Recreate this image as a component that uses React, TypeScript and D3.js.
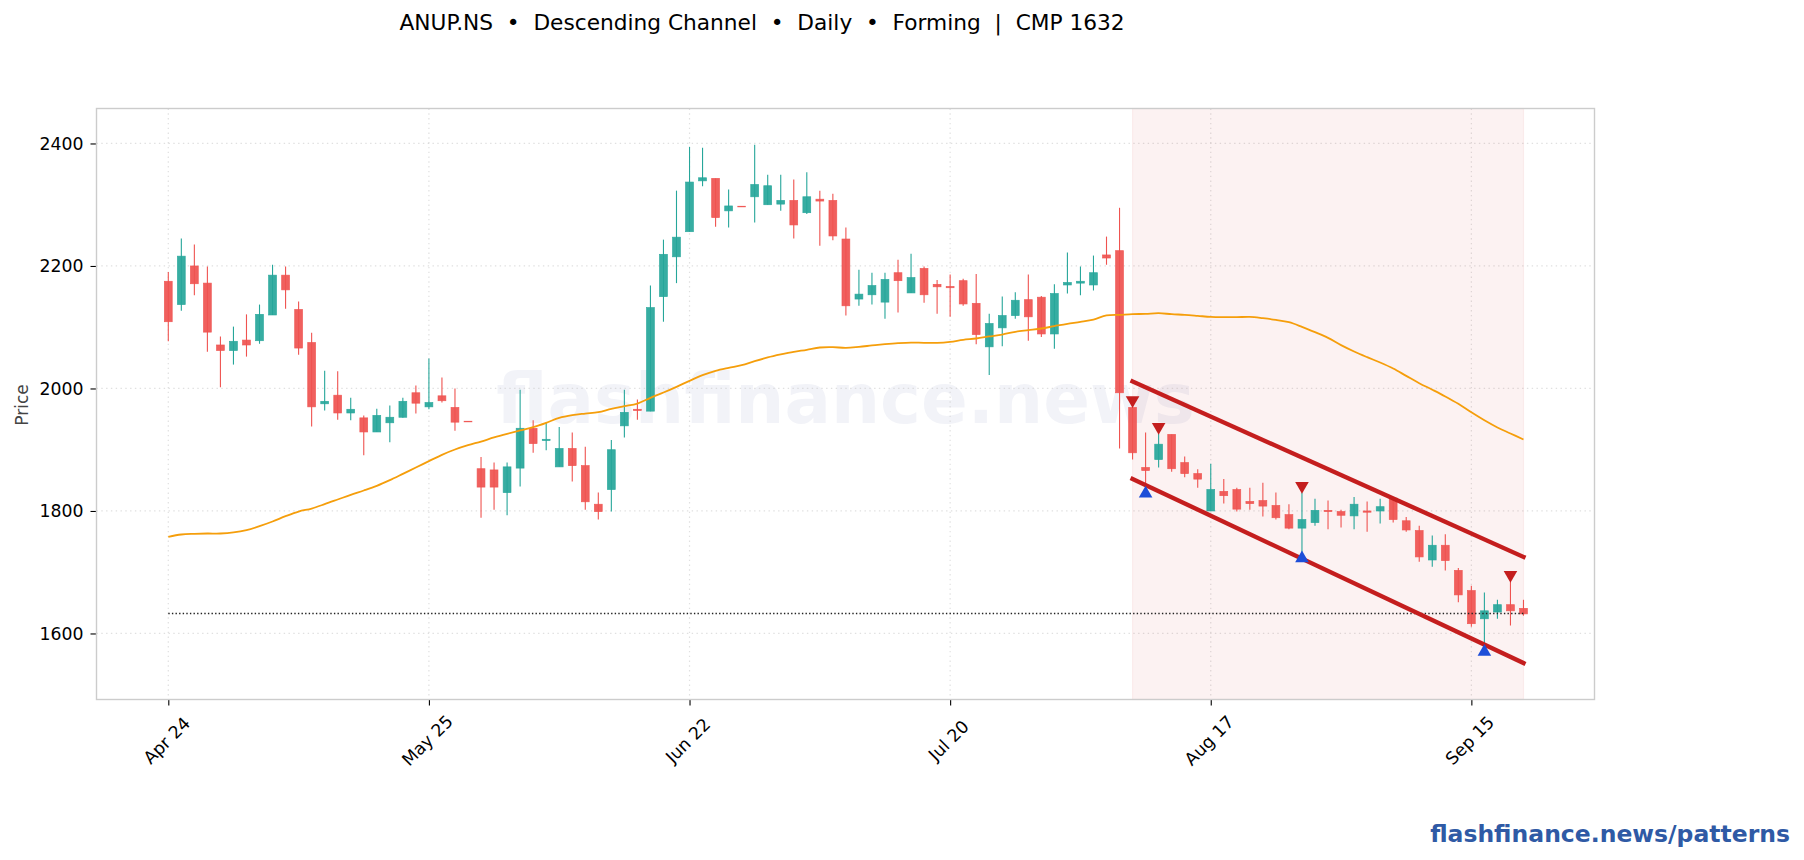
import * as d3 from "d3"
import { useEffect, useRef } from "react"

const titleText = "ANUP.NS  •  Descending Channel  •  Daily  •  Forming  |  CMP 1632"
const watermarkText = "flashfinance.news"
const footerText = "flashfinance.news/patterns"

const opens = [2175,2137,2200,2172,2071,2062,2079,2078,2120,2185,2129,2075,1975,1989,1960,1952,1929,1944,1953,1993,1970,1988,1969,1946.5,1869,1867,1830,1870,1935,1915,1872,1902,1874,1811,1835,1939,1966,1963,2150,2215,2256,2339,2343,2290,2297.5,2313,2300,2301,2307,2287,2309,2307,2244,2146,2153,2141,2189,2156,2196,2170,2166.5,2176,2139,2068,2099,2119,2145,2149,2089,2169,2172,2169,2218,2225,1969,1871,1884,1925,1879,1861,1800,1832,1835,1815.5,1817,1809,1794,1772,1781,1801,1799,1792,1800,1800,1821,1784,1768,1720,1744,1703,1670,1624,1635,1647,1641]
const highs = [2190,2245,2235,2199,2085,2101,2121,2137,2202,2199,2142,2091,2029,2028,1985,1956,1967,1972,1985,2005,2049,2018,2000,1946.5,1888,1879,1879,1998,1948,1945,1937,1928,1905,1830,1916,1998,1982,2168,2243,2323,2394.5,2393,2343,2325,2297.5,2398,2349,2349,2341,2353,2323,2318,2263,2194,2189,2189,2210,2220,2199,2177,2186,2179,2187,2122,2150,2157,2186,2151,2170,2222,2199,2217,2248,2295,1975,1928,1926,1925,1889,1868,1877,1852,1838,1838,1846,1830,1811,1830,1820,1817,1802,1823,1815.5,1820,1821,1790,1776,1760,1762,1707,1678,1667,1655,1684,1655]
const lows = [2077,2127,2152,2060,2002,2039,2052,2073,2120,2130,2055,1938,1964,1949,1948,1891,1929,1912,1952,1959,1966,1977,1931,1945.5,1789,1802,1793,1840,1895,1899,1872,1848,1802,1786,1799,1920,1949,1963,2109,2172,2256,2330,2264,2263,2296.5,2271,2300,2290,2245,2285,2233,2242,2119,2135,2137,2114,2124,2156,2140,2122,2117,2135,2072,2022,2069,2114,2078,2084,2065,2155,2152,2160,2202,1902,1884,1840,1871,1864,1855,1838,1800,1812,1799,1802,1791,1786,1770,1733,1776,1770,1773,1770,1766,1779.5,1781,1766,1717,1709,1703,1651,1611,1573,1624,1613,1629]
const closes = [2109,2216,2171,2092,2062,2077,2071,2121,2185,2161,2066,1970,1979,1960,1966,1929,1956,1953,1979,1976,1977,1980,1945,1945.5,1839,1839,1872,1935,1910,1917,1902,1874,1815,1799,1900,1961,1964,2132,2219,2247,2337,2344,2279,2298,2296.5,2333,2331,2307,2267,2313,2306,2249,2135,2154,2168,2178,2176,2181,2153,2166,2164.5,2138,2088,2106,2119,2144,2117,2089,2155,2173,2175,2189,2213,1993,1895,1866,1909,1869,1861,1852,1835,1825,1803,1812,1808,1789,1772,1786,1801,1799,1793,1811,1798,1807,1786,1769,1725,1744,1719,1663,1616,1637,1647,1637,1632]
const maValues = [1757.8,1761.6,1762.7,1763.2,1763.2,1764.9,1768.7,1775.2,1782.8,1791.5,1799.1,1804,1811.1,1818.7,1826.4,1833.4,1841,1850.3,1860.6,1871,1881.3,1891.7,1900.4,1907.4,1913.4,1920,1925.9,1931.4,1936.8,1943.9,1952,1956.4,1959,1961.3,1966.7,1971,1975.4,1984.7,1993.4,2002.7,2012.5,2021.7,2028.8,2033.7,2038,2044.6,2050.6,2055.5,2059.8,2063.1,2066.9,2067.4,2066.4,2068,2070.2,2072.3,2074,2075,2074.5,2074.5,2076.2,2079.4,2081.6,2084.9,2088.1,2092.5,2095.2,2097.9,2101.8,2105.6,2108.8,2112.6,2119.2,2120.2,2121.3,2121.8,2122.9,2121.3,2120.2,2118.6,2116.9,2116.4,2116.4,2116.9,2114.8,2112,2108.2,2100.6,2091.9,2082.6,2070.7,2060.3,2051.1,2042.4,2032.6,2020.6,2008.6,1998,1987,1975,1961,1948,1936.3,1926.5,1916.7]

const xTickIndex = [0, 20, 40, 60, 80, 100]
const xTickLabels = ["Apr 24", "May 25", "Jun 22", "Jul 20", "Aug 17", "Sep 15"]
const yTicks = [1600, 1800, 2000, 2200, 2400]

const cmp = 1632.7
const patternStart = 74
const patternEnd = 104
const upperChannel = [2011.4, 1725]
const lowerChannel = [1852.4, 1551.6]
const swingHighs = [[74, 1978.5], [76, 1934.7], [87, 1838.4], [103, 1693]]
const swingLows = [[75, 1831], [87, 1725], [101, 1572.5]]

const UP = "#26a69a"
const DOWN = "#ef5350"
const CHANNEL = "#c41e1e"

const App = () => {
    const svgRef = useRef(null)

    useEffect(() => {
        const svg = d3.select(svgRef.current)
        svg.selectAll("*").remove()

        const left = 96.5, right = 1594.5, top = 108.5, bottom = 699.5
        const x = d3.scaleLinear().domain([-5.51, 109.45]).range([left, right])
        const y = d3.scaleLinear().domain([1492.2, 2457.1]).range([bottom, top])
        const font = "'DejaVu Sans'"
        const band = x(0.3) - x(0)

        svg.append("text")
            .attr("x", 399.5).attr("y", 30)
            .attr("font-family", font).attr("font-size", 21.7)
            .attr("fill", "#000")
            .style("white-space", "pre")
            .text(titleText)

        // watermark goes under everything
        svg.append("text")
            .attr("x", (left + right) / 2).attr("y", (top + bottom) / 2 - 5)
            .attr("text-anchor", "middle").attr("dominant-baseline", "central")
            .attr("font-family", font).attr("font-weight", "bold").attr("font-size", 69)
            .attr("fill", "#1e3a8a").attr("fill-opacity", 0.06)
            .text(watermarkText)

        const grid = svg.append("g")
        xTickIndex.forEach(i => {
            grid.append("line")
                .attr("x1", x(i)).attr("x2", x(i)).attr("y1", top).attr("y2", bottom)
                .attr("stroke", "#ccc").attr("stroke-opacity", 0.6)
                .attr("stroke-width", 1.2).attr("stroke-dasharray", "1.4 3.4")
        })
        yTicks.forEach(v => {
            grid.append("line")
                .attr("x1", left).attr("x2", right).attr("y1", y(v)).attr("y2", y(v))
                .attr("stroke", "#ccc").attr("stroke-opacity", 0.6)
                .attr("stroke-width", 1.2).attr("stroke-dasharray", "1.4 3.4")
        })

        svg.append("rect")
            .attr("x", x(patternStart)).attr("y", top)
            .attr("width", x(patternEnd) - x(patternStart)).attr("height", bottom - top)
            .attr("fill", CHANNEL).attr("fill-opacity", 0.06)
            .attr("stroke", CHANNEL).attr("stroke-opacity", 0.06).attr("stroke-width", 1.2)

        const candles = svg.append("g")
        opens.forEach((o, i) => {
            const c = closes[i]
            const colour = c >= o ? UP : DOWN
            candles.append("line")
                .attr("x1", x(i)).attr("x2", x(i))
                .attr("y1", y(highs[i])).attr("y2", y(lows[i]))
                .attr("stroke", colour).attr("stroke-width", 1.1)
            candles.append("rect")
                .attr("x", x(i) - band)
                .attr("y", y(Math.max(o, c)))
                .attr("width", band * 2)
                .attr("height", Math.max(y(Math.min(o, c)) - y(Math.max(o, c)), 0.6))
                .attr("fill", colour).attr("fill-opacity", 0.92)
                .attr("stroke", colour).attr("stroke-opacity", 0.9).attr("stroke-width", 0.7)
        })

        svg.append("line")
            .attr("x1", x(0)).attr("x2", x(patternEnd)).attr("y1", y(cmp)).attr("y2", y(cmp))
            .attr("stroke", "#222").attr("stroke-width", 1.4).attr("stroke-dasharray", "1.4 2.2")

        const maLine = d3.line<number>().x((_, i) => x(i)).y(d => y(d)).curve(d3.curveCatmullRom)
        svg.append("path")
            .attr("d", maLine(maValues))
            .attr("fill", "none").attr("stroke", "#f59e0b").attr("stroke-width", 1.8)

        ;[upperChannel, lowerChannel].forEach(ch => {
            svg.append("line")
                .attr("x1", x(patternStart)).attr("y1", y(ch[0]))
                .attr("x2", x(patternEnd)).attr("y2", y(ch[1]))
                .attr("stroke", CHANNEL).attr("stroke-width", 4.4).attr("stroke-linecap", "square")
        })

        const tri = d3.symbol().type(d3.symbolTriangle).size(80)
        swingHighs.forEach(([i, v]) => {
            svg.append("path").attr("d", tri())
                .attr("transform", `translate(${x(i)},${y(v) - 1.5}) rotate(180)`)
                .attr("fill", CHANNEL)
        })
        swingLows.forEach(([i, v]) => {
            svg.append("path").attr("d", tri())
                .attr("transform", `translate(${x(i)},${y(v) + 1.5})`)
                .attr("fill", "#1d4ed8")
        })

        // axes
        const yAxis = svg.append("g").attr("transform", `translate(${left},0)`)
            .call(d3.axisLeft(y).tickValues(yTicks).tickSize(6).tickPadding(7).tickFormat(d3.format("d")))
        const xAxis = svg.append("g").attr("transform", `translate(0,${bottom})`)
            .call(d3.axisBottom(x).tickValues(xTickIndex).tickSize(6)
                .tickFormat((_, i) => xTickLabels[i]))
        ;[yAxis, xAxis].forEach(a => {
            a.select(".domain").remove()
            a.selectAll("line").attr("stroke", "#000").attr("stroke-width", 1.1)
            a.selectAll("text").attr("font-family", font).attr("font-size", 17.3).attr("fill", "#000")
        })
        xAxis.selectAll("text")
            .attr("text-anchor", "middle").attr("dy", null).attr("y", null)
            .attr("dominant-baseline", "central")
            .attr("transform", "translate(-2,41) rotate(-45)")

        svg.append("rect")
            .attr("x", left).attr("y", top)
            .attr("width", right - left).attr("height", bottom - top)
            .attr("fill", "none").attr("stroke", "#ccc").attr("stroke-width", 1.4)

        svg.append("text")
            .attr("transform", "translate(22,405) rotate(-90)")
            .attr("text-anchor", "middle").attr("dominant-baseline", "central")
            .attr("font-family", font).attr("font-size", 17).attr("fill", "#444")
            .text("Price")

        svg.append("text")
            .attr("x", 1790).attr("y", 842)
            .attr("text-anchor", "end")
            .attr("font-family", font).attr("font-weight", "bold").attr("font-size", 23.5)
            .attr("fill", "#2f5aa5")
            .text(footerText)
    }, [])

    return (
        <svg ref={svgRef} width={1804} height={860}
            style={{ position: "absolute", left: 0, top: 0, background: "#fff" }} />
    )
}

export default App
